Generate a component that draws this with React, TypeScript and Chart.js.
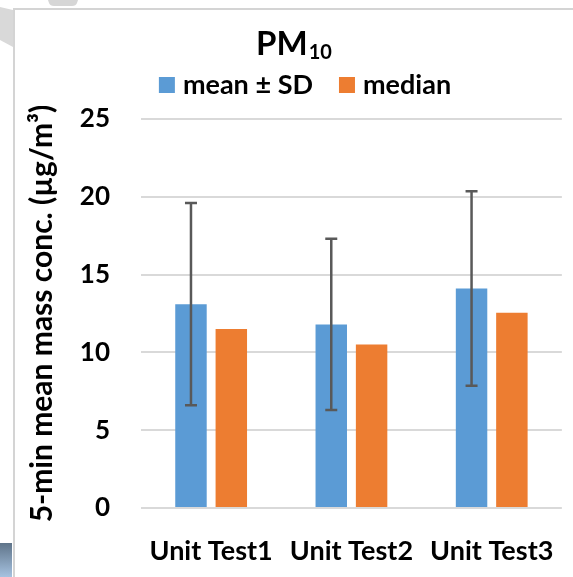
import { useEffect, useRef } from "react";
import { Chart, registerables } from "chart.js";

Chart.register(...registerables);

// Data
const categories = ["Unit Test1", "Unit Test2", "Unit Test3"];
const meanValues = [13.1, 11.8, 14.1];
const medianValues = [11.5, 10.5, 12.55];
const sdValues = [6.5, 5.5, 6.25];
const seriesLabels = ["mean ± SD", "median"];
const titleMain = "PM";
const titleSub = "10";
const yAxisTitle = "5-min mean mass conc. (µg/m³)";
const yMin = 0;
const yMax = 25;
const yStep = 5;

const BLUE = "#5B9BD5";
const ORANGE = "#ED7D31";
const FONT = "Lato, 'DejaVu Sans', sans-serif";
const W = 573;
const H = 577;

// Page backdrop: white sheet with its thin frame and the bits of the slide around it
const backdropPlugin = {
  id: "backdrop",
  beforeDraw(chart: any) {
    const ctx = chart.ctx as CanvasRenderingContext2D;
    ctx.save();
    ctx.fillStyle = "#ffffff";
    ctx.fillRect(0, 0, W, H);

    ctx.fillStyle = "#d9d9d9";
    ctx.beginPath();
    ctx.moveTo(0, 7);
    ctx.lineTo(13, 10);
    ctx.lineTo(13, 47);
    ctx.lineTo(0, 40);
    ctx.closePath();
    ctx.fill();

    ctx.fillStyle = "#d6d6d6";
    ctx.beginPath();
    ctx.moveTo(48, 0);
    ctx.lineTo(78, 0);
    ctx.lineTo(77, 3);
    ctx.quadraticCurveTo(76, 6, 72, 6);
    ctx.lineTo(54, 6);
    ctx.quadraticCurveTo(50, 6, 49, 3);
    ctx.closePath();
    ctx.fill();

    const g = ctx.createLinearGradient(0, 543, 0, H);
    g.addColorStop(0, "#5f7489");
    g.addColorStop(1, "#a6c2e0");
    ctx.fillStyle = g;
    ctx.fillRect(0, 543, 12, H - 543);

    ctx.strokeStyle = "#d4d4d4";
    ctx.lineWidth = 2;
    ctx.beginPath();
    ctx.moveTo(14, H);
    ctx.lineTo(14, 9);
    ctx.lineTo(W, 9);
    ctx.stroke();
    ctx.restore();
  },
};

// Whiskers for the mean series: mean ± SD
const errorBarPlugin = {
  id: "errorBars",
  afterDatasetsDraw(chart: any) {
    const ctx = chart.ctx as CanvasRenderingContext2D;
    const meta = chart.getDatasetMeta(0);
    const y = chart.scales.y;
    ctx.save();
    ctx.strokeStyle = "#595959";
    ctx.lineWidth = 2.5;
    meta.data.forEach((bar: any, i: number) => {
      const x = bar.x;
      const top = y.getPixelForValue(meanValues[i] + sdValues[i]);
      const bot = y.getPixelForValue(meanValues[i] - sdValues[i]);
      ctx.beginPath();
      ctx.moveTo(x, top);
      ctx.lineTo(x, bot);
      ctx.moveTo(x - 6, top);
      ctx.lineTo(x + 6, top);
      ctx.moveTo(x - 6, bot);
      ctx.lineTo(x + 6, bot);
      ctx.stroke();
    });
    ctx.restore();
  },
};

// Title with subscript, and the legend row under it
const headerPlugin = {
  id: "header",
  afterDraw(chart: any) {
    const ctx = chart.ctx as CanvasRenderingContext2D;
    ctx.save();
    ctx.fillStyle = "#000";
    ctx.textBaseline = "alphabetic";
    ctx.textAlign = "left";

    ctx.font = `bold 33px ${FONT}`;
    const wMain = ctx.measureText(titleMain).width;
    ctx.font = `bold 20px ${FONT}`;
    const wSub = ctx.measureText(titleSub).width;
    const tx = 293.5 - (wMain + wSub) / 2;
    ctx.font = `bold 33px ${FONT}`;
    ctx.fillText(titleMain, tx, 55);
    ctx.font = `bold 20px ${FONT}`;
    ctx.fillText(titleSub, tx + wMain + 1, 59);

    const colors = chart.data.datasets.map((d: any) => d.backgroundColor);
    ctx.font = `bold 27px ${FONT}`;
    const box = 16;
    const gap = 8;
    const spacing = 26;
    const widths = seriesLabels.map((t) => ctx.measureText(t).width);
    const total =
      widths.reduce((a, w) => a + box + gap + w, 0) + spacing * (widths.length - 1);
    let x = 305 - total / 2;
    seriesLabels.forEach((t, i) => {
      ctx.fillStyle = colors[i];
      ctx.fillRect(x, 77, box, box);
      ctx.fillStyle = "#000";
      ctx.fillText(t, x + box + gap, 94);
      x += box + gap + widths[i] + spacing;
    });
    ctx.restore();
  },
};

export default function App() {
  const canvasRef = useRef<HTMLCanvasElement | null>(null);

  useEffect(() => {
    const canvas = canvasRef.current;
    if (!canvas) return;
    const chart = new Chart(canvas, {
      type: "bar",
      data: {
        labels: categories,
        datasets: [
          {
            label: seriesLabels[0],
            data: meanValues,
            backgroundColor: BLUE,
            barPercentage: 0.78,
            categoryPercentage: 0.575,
          },
          {
            label: seriesLabels[1],
            data: medianValues,
            backgroundColor: ORANGE,
            barPercentage: 0.78,
            categoryPercentage: 0.575,
          },
        ],
      },
      options: {
        responsive: false,
        animation: false,
        devicePixelRatio: 1,
        layout: { padding: { top: 119, left: 14, right: 4, bottom: 0 } },
        plugins: {
          legend: { display: false },
          title: { display: false },
          tooltip: { enabled: false },
        },
        scales: {
          x: {
            grid: { display: false },
            border: { display: false },
            ticks: {
              color: "#000",
              padding: 19,
              font: { family: FONT, size: 27, weight: "bold" },
            },
            afterFit: (s: any) => {
              s.height = 69;
            },
          },
          y: {
            min: yMin,
            max: yMax,
            ticks: {
              stepSize: yStep,
              color: "#000",
              padding: 31,
              font: { family: FONT, size: 26, weight: "bold" },
            },
            grid: { color: "#D9D9D9", lineWidth: 2, drawTicks: false },
            border: { display: false },
            title: {
              display: true,
              text: yAxisTitle,
              color: "#000",
              font: { family: FONT, size: 30, weight: "bold" },
              padding: { top: 10, bottom: 0 },
            },
            afterFit: (s: any) => {
              s.width = 127;
            },
          },
        },
      },
      plugins: [backdropPlugin, errorBarPlugin, headerPlugin],
    });
    return () => chart.destroy();
  }, []);

  return (
    <div style={{ position: "absolute", left: 0, top: 0, width: W, height: H }}>
      <canvas ref={canvasRef} width={W} height={H} />
    </div>
  );
}
